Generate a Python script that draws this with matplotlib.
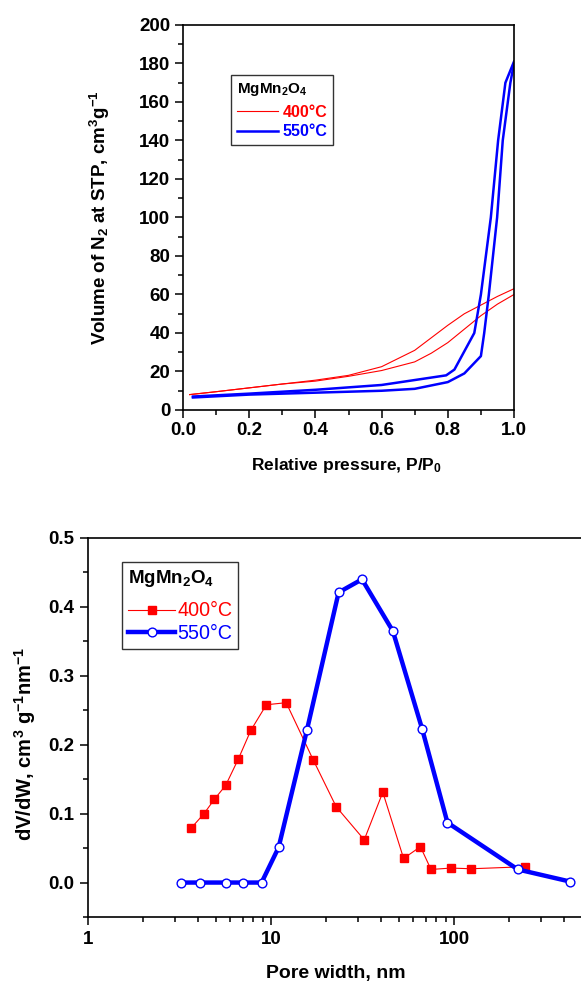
import matplotlib
matplotlib.use("Agg")
import matplotlib.pyplot as plt
from matplotlib.ticker import MultipleLocator, LogLocator, NullFormatter, FixedFormatter, FixedLocator

plt.rcParams['font.family'] = ['Liberation Sans', 'DejaVu Sans']
plt.rcParams['mathtext.fontset'] = 'custom'
plt.rcParams['mathtext.rm'] = 'Liberation Sans'
plt.rcParams['mathtext.bf'] = 'Liberation Sans:bold'
plt.rcParams['mathtext.default'] = 'bf'

# N2 isotherms, MgMn2O4 calcined at 400 and 550 C
p_400_ads = [0.02, 0.1, 0.2, 0.3, 0.4, 0.5, 0.6, 0.7, 0.75, 0.8, 0.85, 0.9, 0.95, 1.0]
v_400_ads = [8, 9.5, 11.5, 13.5, 15, 17.5, 20.5, 25, 29.5, 35, 42, 49, 55, 60]
p_400_des = [1.0, 0.95, 0.9, 0.85, 0.8, 0.75, 0.7, 0.6, 0.5, 0.4, 0.3, 0.2, 0.1, 0.02]
v_400_des = [63, 59, 54.5, 50, 44, 37.5, 31, 22.5, 18, 15.5, 13.5, 11.5, 9.5, 8]

p_550_ads = [0.03, 0.2, 0.4, 0.6, 0.7, 0.8, 0.85, 0.9, 0.91, 0.924, 0.949, 0.966, 0.989, 1.0]
v_550_ads = [6.5, 8, 9, 10, 11, 14.5, 19, 28, 40, 60, 100, 140, 170, 180]
p_550_des = [1.0, 0.974, 0.952, 0.93, 0.9, 0.88, 0.82, 0.795, 0.6, 0.4, 0.2, 0.03]
v_550_des = [181, 170, 140, 100, 60, 40, 21, 18, 13, 10.5, 8.5, 7]

# pore size distributions
w_400 = [3.66, 4.29, 4.91, 5.65, 6.62, 7.76, 9.43, 12.1, 17.0, 22.7, 32.3, 40.8,
         53.0, 65.5, 74.8, 96.3, 124, 245]
dv_400 = [0.079, 0.0995, 0.121, 0.141, 0.179, 0.221, 0.258, 0.261, 0.178, 0.110,
          0.062, 0.131, 0.035, 0.052, 0.019, 0.021, 0.020, 0.023]
w_550 = [3.21, 4.09, 5.67, 7.06, 8.88, 11.0, 15.7, 23.4, 31.4, 46.3, 66.9, 92.0, 223, 429]
dv_550 = [0, 0, 0, 0, 0, 0.051, 0.221, 0.421, 0.440, 0.365, 0.223, 0.087, 0.019, 0.0015]

RED = '#ff0000'
BLUE = '#0000ff'
title = r'MgMn$_2$O$_4$'

W, H = 581, 983
fig = plt.figure(figsize=(W / 100, H / 100), dpi=100)


def box(l, t, r, b):
    return [l / W, 1 - b / H, (r - l) / W, (b - t) / H]


def style(ax, size):
    for s in ax.spines.values():
        s.set_linewidth(1.2)
    ax.tick_params(which='both', direction='out', top=False, right=False, width=1.1,
                   labelsize=size, pad=3)
    ax.tick_params(which='major', length=6)
    ax.tick_params(which='minor', length=3.5)
    for lbl in ax.get_xticklabels() + ax.get_yticklabels():
        lbl.set_fontweight('bold')


# ---- isotherms ----
ax1 = fig.add_axes(box(183, 25, 514, 410))
ax1.plot(p_400_ads, v_400_ads, color=RED, lw=0.8, label='400°C')
ax1.plot(p_400_des, v_400_des, color=RED, lw=0.8)
ax1.plot(p_550_ads, v_550_ads, color=BLUE, lw=1.8, label='550°C')
ax1.plot(p_550_des, v_550_des, color=BLUE, lw=1.8)
ax1.set_xlim(0, 1)
ax1.set_ylim(0, 200)
ax1.xaxis.set_major_locator(MultipleLocator(0.2))
ax1.xaxis.set_minor_locator(MultipleLocator(0.1))
ax1.yaxis.set_major_locator(MultipleLocator(20))
ax1.yaxis.set_minor_locator(MultipleLocator(10))
ax1.xaxis.set_major_formatter(lambda v, pos: f'{v:.1f}')
style(ax1, 13.5)
ax1.set_xlabel('Relative pressure, P/P$_0$', fontsize=12.5, fontweight='bold')
ax1.xaxis.set_label_coords(0.495, -0.145)
ax1.xaxis.label.set_va('center')
ax1.set_ylabel(r'Volume of N$_2$ at STP, cm$^3$g$^{-1}$', fontsize=13.5, fontweight='bold')
ax1.yaxis.set_label_coords(-83 / 331, 0.5)
ax1.yaxis.label.set_va('center')
leg1 = ax1.legend(title=title, loc='upper left', bbox_to_anchor=(48 / 331, 1 - 50 / 385),
                  frameon=True, fancybox=False, edgecolor='#333333', framealpha=1,
                  prop={'weight': 'bold', 'size': 11.5}, labelcolor='linecolor',
                  title_fontproperties={'weight': 'bold', 'size': 11},
                  handlelength=2.6, handletextpad=0.3, borderpad=0.35,
                  labelspacing=0.3, borderaxespad=0)
leg1._legend_box.align = 'left'
leg1._legend_box.sep = 5
leg1.get_frame().set_linewidth(1.0)

# ---- pore size distribution ----
ax2 = fig.add_axes(box(88, 538, 582, 917))
ax2.plot(w_400, dv_400, color=RED, lw=0.8, marker='s', ms=5.5, mec=RED, mfc=RED,
         label='400°C')
ax2.plot(w_550, dv_550, color=BLUE, lw=3.2, marker='o', ms=6.3, mec=BLUE, mfc='white',
         mew=1.0, label='550°C')
ax2.set_xscale('log')
ax2.set_xlim(1, 500)
ax2.set_ylim(-0.05, 0.5)
ax2.xaxis.set_major_locator(FixedLocator([1, 10, 100]))
ax2.xaxis.set_major_formatter(FixedFormatter(['1', '10', '100']))
ax2.xaxis.set_minor_locator(LogLocator(base=10, subs=range(2, 10)))
ax2.xaxis.set_minor_formatter(NullFormatter())
ax2.yaxis.set_major_locator(MultipleLocator(0.1))
ax2.yaxis.set_minor_locator(MultipleLocator(0.05))
ax2.yaxis.set_major_formatter(lambda v, pos: f'{v:.1f}')
style(ax2, 13.5)
ax2.tick_params(which='major', pad=4)
ax2.set_xlabel('Pore width, nm', fontsize=14, fontweight='bold')
ax2.xaxis.set_label_coords(0.501, -0.148)
ax2.xaxis.label.set_va('center')
ax2.set_ylabel(r'dV/dW, cm$^3$ g$^{-1}$nm$^{-1}$', fontsize=14.5, fontweight='bold')
ax2.yaxis.set_label_coords(-63 / 494, 0.456)
ax2.yaxis.label.set_va('center')
leg2 = ax2.legend(title=title, loc='upper left', bbox_to_anchor=(34 / 494, 1 - 24 / 379),
                  frameon=True, fancybox=False, edgecolor='#333333', framealpha=1,
                  prop={'size': 14.2}, labelcolor='linecolor',
                  title_fontproperties={'weight': 'bold', 'size': 13.5},
                  handlelength=2.4, handletextpad=0.1, borderpad=0.3,
                  labelspacing=0.2, borderaxespad=0)
leg2._legend_box.align = 'left'
leg2._legend_box.sep = 9
leg2.get_frame().set_linewidth(1.0)

fig.savefig('out.png', dpi=100)
